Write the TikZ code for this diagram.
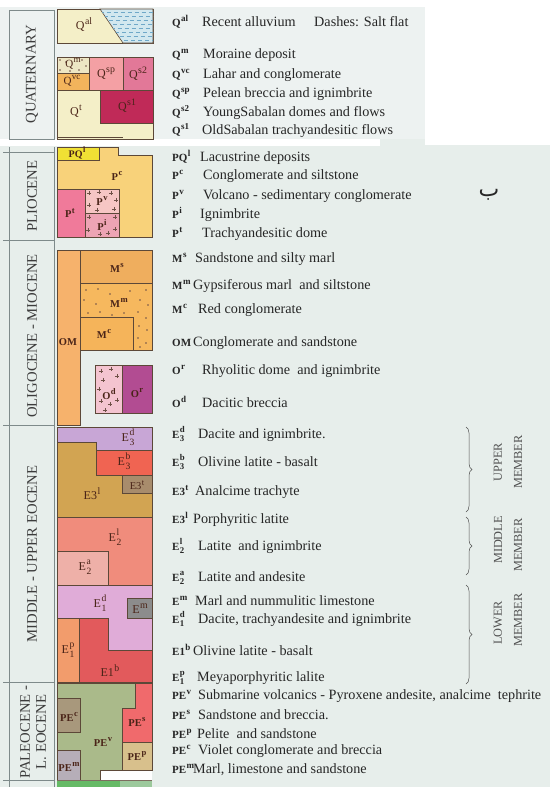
\documentclass[tikz,border=0pt]{standalone}
\usepackage{fontspec}
\usepackage{amsmath}
\setmainfont{Liberation Serif}
\newfontfamily\arabicfont[Script=Arabic]{DejaVu Sans}
\TeXXeTstate=1
\usetikzlibrary{decorations.pathreplacing}
\definecolor{bg}{HTML}{E7EEEB}
\definecolor{qbg}{HTML}{EDF2F1}
\definecolor{edge}{HTML}{5C4838}
\definecolor{pline}{HTML}{7E8A8A}
\definecolor{txt}{HTML}{262626}
\definecolor{lab}{HTML}{4A2418}
\definecolor{cQal}{HTML}{F4EFC8}
\definecolor{csalt}{HTML}{D2E8EF}
\definecolor{csaltd}{HTML}{6FA8C8}
\definecolor{cQm}{HTML}{EDE6C4}
\definecolor{cQvc}{HTML}{F2B45C}
\definecolor{cQsp}{HTML}{F4A0A4}
\definecolor{cQsb}{HTML}{E27898}
\definecolor{cQsa}{HTML}{C02A58}
\definecolor{cPQl}{HTML}{F0E034}
\definecolor{cPc}{HTML}{F8D27A}
\definecolor{cPt}{HTML}{F07A9A}
\definecolor{cPv}{HTML}{F6C6C4}
\definecolor{cPi}{HTML}{EDA4B4}
\definecolor{cOM}{HTML}{F6B26C}
\definecolor{cMs}{HTML}{EFAE5E}
\definecolor{cMm}{HTML}{F6B85E}
\definecolor{cMc}{HTML}{F5B45A}
\definecolor{cOd}{HTML}{F4C4D0}
\definecolor{cOr}{HTML}{B24C92}
\definecolor{cEtd}{HTML}{C8A6D6}
\definecolor{cEtl}{HTML}{D2A452}
\definecolor{cEtb}{HTML}{F06452}
\definecolor{cEtt}{HTML}{A88C6C}
\definecolor{cEsl}{HTML}{F08C7C}
\definecolor{cEsa}{HTML}{EEB0A8}
\definecolor{cEod}{HTML}{E0ACD8}
\definecolor{cEm}{HTML}{8C8C8C}
\definecolor{cEop}{HTML}{F29C6C}
\definecolor{cEob}{HTML}{E25A5C}
\definecolor{cPEv}{HTML}{AABA8A}
\definecolor{cPEs}{HTML}{F06A6C}
\definecolor{cPEp}{HTML}{D8C08C}
\definecolor{cPEc}{HTML}{A8987C}
\definecolor{cPEm}{HTML}{B6AEB8}
\newcommand\lsup[2]{#1\kern0.04em\raisebox{0.42em}{\scalebox{0.82}{#2}}}
\newcommand\lss[3]{#1\kern0.04em\rlap{\raisebox{0.48em}{\scalebox{0.8}{#3}}}\raisebox{-0.32em}{\scalebox{0.8}{#2}}}
\newcommand\entry[5]{\node[pref] (#1p) at (172,#2) {#3}; \node[desc] (#1d) at (#4,#2) {#5};}
\newcommand\pluses[1]{\foreach \a/\b in {#1} {\draw[plusmark] (\a-2.2,\b) -- (\a+2.2,\b) (\a,\b-2.2) -- (\a,\b+2.2);}}
\newcommand\speckles[1]{\foreach \a/\b in {#1} {\fill[lab!80] (\a,\b) circle (0.8);}}
\begin{document}
\begin{tikzpicture}[x=1pt,y=-1pt,
  blk/.style={draw=edge, line width=0.6pt},
  lab/.style={text=lab, inner sep=0pt, font=\fontsize{12}{12}\selectfont},
  slab/.style={text=lab, inner sep=0pt, font=\fontsize{10.5}{11}\selectfont\bfseries},
  pref/.style={anchor=base west, inner sep=0pt, text=txt, font=\fontsize{11}{11}\selectfont\bfseries},
  desc/.style={anchor=base west, inner sep=0pt, text=txt, font=\fontsize{14.2}{14}\selectfont},
  per/.style={rotate=90, inner sep=0pt, text=txt!90, font=\fontsize{14.7}{16}\selectfont},
  mem/.style={rotate=90, inner sep=0pt, text=txt!80, font=\fontsize{12.3}{12}\selectfont},
  pbox/.style={draw=pline, line width=0.7pt},
  plusmark/.style={draw=lab!80, line width=0.5pt},
  brc/.style={draw=txt!80, line width=0.5pt, decorate, decoration={brace, amplitude=6pt}}]
\useasboundingbox (0,0) rectangle (550,787);
\fill[bg] (0,0) rectangle (550,787);
\fill[qbg] (0,7) rectangle (425,139);
\fill[white] (0,0) rectangle (550,7);
\fill[white] (425,0) rectangle (550,145);
\fill[white] (0,139) rectangle (380,146);
% period columns
\draw[pbox] (9,10) rectangle (54,139);
\draw[pbox] (9,147) -- (9,787) (54,147) -- (54,787);
\foreach \yy in {152,240,425,682,780} {\draw[pbox] (3,\yy) -- (54,\yy);}
\node[per] (quat) at (32,74) {QUATERNARY};
\node[per] (plio) at (32,196) {PLIOCENE};
\node[per] (olig) at (32,336) {OLIGOCENE - MIOCENE};
\node[per] (eoc) at (32,554) {MIDDLE - UPPER EOCENE};
\node[per, align=center] (pal) at (33,732) {PALEOCENE -\\L. EOCENE};
% ---------- Quaternary blocks
\filldraw[blk, fill=cQal] (57,9) rectangle (153,43);
\filldraw[draw=edge, line width=0.6pt, fill=csalt] (100,9) -- (123,43) -- (153,43) -- (153,9) -- cycle;
\begin{scope}
\clip (100,9) -- (123,43) -- (153,43) -- (153,9) -- cycle;
\foreach \yy [count=\i] in {12.5,16.5,20.5,24.5,28.5,32.5,36.5,40.5} {
  \draw[csaltd, line width=0.5pt, dash pattern=on 4pt off 3pt, dash phase=\i*2.5pt] (95,\yy) -- (156,\yy);}
\end{scope}
\filldraw[blk, fill=cQal] (57,90) -- (100,90) -- (100,123) -- (153,123) -- (153,139) -- (57,139) -- cycle;
\draw[edge, line width=1pt] (57,137) -- (123,137);
\filldraw[blk, fill=cQm] (57,57) rectangle (89,73);
\speckles{60/60,66/62,82/60,86/66,60/70,70/71,79/70}
\filldraw[blk, fill=cQvc] (57,73) rectangle (89,90);
\filldraw[blk, fill=cQsp] (89,57) rectangle (123,90);
\filldraw[blk, fill=cQsb] (123,57) rectangle (153,90);
\filldraw[blk, fill=cQsa] (100,90) rectangle (153,123);
\node[lab] (lqal) at (84,25) {\lsup{Q}{al}};
\node[lab, font=\fontsize{11}{11}\selectfont] (lqm) at (73,64) {\lsup{Q}{m}};
\node[lab, font=\fontsize{11}{11}\selectfont] (lqvc) at (72,81) {\lsup{Q}{vc}};
\node[lab] (lqsp) at (106,74) {\lsup{Q}{sp}};
\node[lab] (lqsb) at (138,74) {\lsup{Q}{s2}};
\node[lab] (lqsa) at (127,106) {\lsup{Q}{s1}};
\node[lab] (lqt) at (76,111) {\lsup{Q}{t}};
% ---------- Pliocene blocks
\filldraw[blk, fill=cPc] (57,160) -- (99,160) -- (99,147) -- (118,147) -- (118,155) -- (152,155) -- (152,237) -- (57,237) -- cycle;
\filldraw[blk, fill=cPQl] (57,147) rectangle (99,160);
\filldraw[blk, fill=cPt] (57,189) rectangle (85,237);
\filldraw[blk, fill=cPv] (85,189) rectangle (119,213);
\filldraw[blk, fill=cPi] (85,213) rectangle (119,237);
\pluses{89/193,99/192,111/193,116/200,89/205,114/209,97/210}
\pluses{89/217,115/217,88/230,115/229,100/234,108/233}
\node[slab, font=\fontsize{10}{10}\selectfont\bfseries] (lpql) at (77,153) {\lsup{PQ}{l}};
\node[slab] (lpc) at (117,176) {\lsup{P}{c}};
\node[slab] (lpt) at (70,213) {\lsup{P}{t}};
\node[slab] (lpv) at (102,201) {\lsup{P}{v}};
\node[slab] (lpi) at (102,225) {\lsup{P}{i}};
% ---------- Oligocene - Miocene blocks
\filldraw[blk, fill=cOM] (57,250) rectangle (80,425);
\filldraw[blk, fill=cMs] (80,250) rectangle (152,283);
\filldraw[blk, fill=cMm] (80,283) rectangle (152,350);
\filldraw[blk, fill=cMc] (80,317) rectangle (133,350);
\speckles{86/290,98/289,110/294,130/291,146/290,84/300,96/304,140/300,148/305,88/313,100/312,112/315,124/313,138/312,146/318,139/326,147/330,138/338,146/343,140/347}
\filldraw[blk, fill=cOd] (95,365) rectangle (122,413);
\filldraw[blk, fill=cOr] (122,365) rectangle (152,413);
\pluses{101/371,111/369,117/376,103/380,99/389,101/401,110/404,117/400,105/410}
\node[slab] (lms) at (117,268) {\lsup{M}{s}};
\node[slab] (lmm) at (119,303) {\lsup{M}{m}};
\node[slab] (lmc) at (104,334) {\lsup{M}{c}};
\node[slab] (lom) at (68,342) {OM};
\node[slab] (lod) at (109,394) {\lsup{O}{d}};
\node[slab] (lor) at (137,393) {\lsup{O}{r}};
% ---------- Eocene blocks
\filldraw[blk, fill=cEtd] (57,427) -- (152,427) -- (152,450) -- (96,450) -- (96,442) -- (57,442) -- cycle;
\filldraw[blk, fill=cEtl] (57,442) -- (96,442) -- (96,475) -- (122,475) -- (122,493) -- (152,493) -- (152,517) -- (57,517) -- cycle;
\filldraw[blk, fill=cEtb] (96,450) rectangle (152,475);
\filldraw[blk, fill=cEtt] (122,475) rectangle (152,493);
\filldraw[blk, fill=cEsl] (57,517) rectangle (152,585);
\filldraw[blk, fill=cEsa] (57,551) rectangle (108,585);
\filldraw[blk, fill=cEod] (57,585) -- (152,585) -- (152,650) -- (108,650) -- (108,618) -- (57,618) -- cycle;
\filldraw[blk, fill=cEm] (127,598) rectangle (152,618);
\filldraw[blk, fill=cEop] (57,618) rectangle (79,682);
\filldraw[blk, fill=cEob] (79,618) -- (108,618) -- (108,650) -- (152,650) -- (152,682) -- (79,682) -- cycle;
\node[lab] (letd) at (128,437) {\lss{E}{3}{d}};
\node[lab] (letb) at (124,461) {\lss{E}{3}{b}};
\node[lab, font=\fontsize{10.5}{11}\selectfont] (lett) at (137,485) {\lsup{E3}{t}};
\node[lab] (letl) at (92,494) {\lsup{E3}{l}};
\node[lab] (lesl) at (115,537) {\lss{E}{2}{l}};
\node[lab] (lesa) at (85,567) {\lss{E}{2}{a}};
\node[lab] (leod) at (100,603) {\lss{E}{1}{d}};
\node[lab] (lem) at (140,609) {\lsup{E}{m}};
\node[lab] (leop) at (68,650) {\lss{E}{1}{p}};
\node[lab] (leob) at (110,671) {\lsup{E1}{b}};
% ---------- Paleocene blocks
\filldraw[blk, fill=cPEv] (57,683) -- (135,683) -- (135,708) -- (122,708) -- (122,770) -- (100,770) -- (100,780) -- (57,780) -- cycle;
\filldraw[blk, fill=cPEs] (135,683) -- (152,683) -- (152,742) -- (122,742) -- (122,708) -- (135,708) -- cycle;
\filldraw[blk, fill=cPEp] (122,742) rectangle (152,770);
\filldraw[blk, fill=cPEc] (57,698) rectangle (80,732);
\filldraw[blk, fill=cPEm] (57,750) rectangle (80,780);
\fill[white!96!bg] (101,771) rectangle (152,780);
\fill[green!55!black!60!white] (57,781) rectangle (120,787);
\fill[gray!70!green!60] (120,781) rectangle (152,787);
\draw[edge!80, line width=0.8pt] (57,780.5) -- (152,780.5);
\node[slab] (lpec) at (69,717) {\lsup{PE}{c}};
\node[slab] (lpev) at (103,742) {\lsup{PE}{v}};
\node[slab] (lpes) at (137,722) {\lsup{PE}{s}};
\node[slab] (lpep) at (137,756) {\lsup{PE}{p}};
\node[slab] (lpem) at (69,767) {\lsup{PE}{m}};
% ---------- legend texts
\entry{qal}{26}{\lsup{Q}{al}}{202}{Recent alluvium}
\node[desc] (salt) at (314,26) {Dashes: Salt flat};
\entry{qm}{58}{\lsup{Q}{m}}{203}{Moraine deposit}
\entry{qvc}{78}{\lsup{Q}{vc}}{203}{Lahar and conglomerate}
\entry{qsp}{97}{\lsup{Q}{sp}}{203}{Pelean breccia and ignimbrite}
\entry{qsb}{116}{\lsup{Q}{s2}}{203}{YoungSabalan domes and flows}
\entry{qsa}{134}{\lsup{Q}{s1}}{202}{OldSabalan trachyandesitic flows}
\entry{pql}{161}{\lsup{PQ}{l}}{200}{Lacustrine deposits}
\entry{pc}{179}{\lsup{P}{c}}{203}{Conglomerate and siltstone}
\entry{pv}{199}{\lsup{P}{v}}{203}{Volcano - sedimentary conglomerate}
\entry{pi}{218}{\lsup{P}{i}}{200}{Ignimbrite}
\entry{pt}{237}{\lsup{P}{t}}{202}{Trachyandesitic dome}
\entry{ms}{262}{\lsup{M}{s}}{195}{Sandstone and silty marl}
\entry{mm}{289}{\lsup{M}{m}}{193}{Gypsiferous marl\ \ and siltstone}
\entry{mc}{313}{\lsup{M}{c}}{198}{Red conglomerate}
\entry{om}{346}{OM}{193}{Conglomerate and sandstone}
\entry{or}{374}{\lsup{O}{r}}{202}{Rhyolitic dome\ \ and ignimbrite}
\entry{od}{407}{\lsup{O}{d}}{202}{Dacitic breccia}
\entry{etd}{438}{\lss{E}{3}{d}}{198}{Dacite and ignimbrite.}
\entry{etb}{466}{\lss{E}{3}{b}}{198}{Olivine latite - basalt}
\entry{ett}{495}{\lsup{E3}{t}}{195}{Analcime trachyte}
\entry{etl}{523}{\lsup{E3}{l}}{193}{Porphyritic latite}
\entry{esl}{550}{\lss{E}{2}{l}}{198}{Latite\ \ and ignimbrite}
\entry{esa}{581}{\lss{E}{2}{a}}{198}{Latite and andesite}
\entry{em}{605}{\lsup{E}{m}}{195}{Marl and nummulitic limestone}
\entry{eod}{623}{\lss{E}{1}{d}}{198}{Dacite, trachyandesite and ignimbrite}
\entry{eob}{655}{\lsup{E1}{b}}{193}{Olivine latite - basalt}
\entry{eop}{681}{\lss{E}{1}{p}}{197}{Meyaporphyritic lalite}
\entry{pev}{699}{\lsup{PE}{v}}{198}{Submarine volcanics - Pyroxene andesite, analcime\ \ tephrite}
\entry{pes}{719}{\lsup{PE}{s}}{198}{Sandstone and breccia.}
\entry{pep}{738}{\lsup{PE}{p}}{197}{Pelite\ \ and sandstone}
\entry{pec}{754}{\lsup{PE}{c}}{198}{Violet conglomerate and breccia}
\entry{pem}{773}{\lsup{PE}{m}}{193}{Marl, limestone and sandstone}
% ---------- braces and member labels
\coordinate (ub1) at (466,427); \coordinate (ub2) at (466,512);
\coordinate (mb1) at (466,517); \coordinate (mb2) at (466,575);
\coordinate (lb1) at (466,585); \coordinate (lb2) at (466,684);
\draw[brc] (ub1) -- (ub2);
\draw[brc] (mb1) -- (mb2);
\draw[brc] (lb1) -- (lb2);
\node[mem] (upa) at (498,462) {UPPER};
\node[mem] (upb) at (518,462) {MEMBER};
\node[mem] (mia) at (498,540) {MIDDLE};
\node[mem] (mib) at (518,545) {MEMBER};
\node[mem] (loa) at (498,623) {LOWER};
\node[mem] (lob) at (518,620) {MEMBER};
\node[text=txt, inner sep=0pt, font=\arabicfont\fontsize{22}{22}\selectfont] (beh) at (489,195) {\beginR ب\endR};
\end{tikzpicture}
\end{document}
